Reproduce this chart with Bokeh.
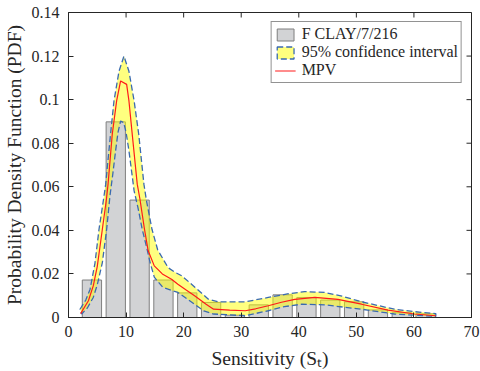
import math
from bokeh.plotting import figure
from bokeh.models import FixedTicker, Legend, LegendItem, Range1d
from bokeh.embed import file_html
from bokeh.resources import INLINE

# ---- data ----
bin_centers = [4.07, 8.21, 12.35, 16.49, 20.63, 24.77, 28.91, 33.05, 37.19,
               41.33, 45.47, 49.61, 53.75, 57.89, 62.03]
bin_pdf = [0.0172, 0.0898, 0.0539, 0.0172, 0.0113, 0.0069, 0.0011, 0.0058,
           0.0104, 0.0092, 0.0080, 0.0072, 0.0035, 0.0022, 0.0017]

mpv_x = [2.1, 3.46, 4.3, 5.0, 5.88, 6.6, 6.87, 7.6, 8.36, 9.05, 10.1, 10.5,
         11.07, 11.94, 12.4, 13.2, 13.84, 14.9, 16.3, 17.9, 19.0, 20.5, 21.9,
         23.9, 25.2, 28.0, 30.7, 32.5, 34.7, 37.0, 39.3, 42.8, 46.8, 50.9,
         55.5, 60.1, 63.8]
mpv_y = [0.0018, 0.0077, 0.0145, 0.0235, 0.0405, 0.0545, 0.0612, 0.0841,
         0.0994, 0.1086, 0.1070, 0.0994, 0.0841, 0.0612, 0.0545, 0.0405,
         0.0306, 0.0237, 0.0200, 0.0176, 0.0153, 0.0125, 0.0100, 0.0061,
         0.0038, 0.0034, 0.0031, 0.0040, 0.0054, 0.0070, 0.0083, 0.0092,
         0.0083, 0.0061, 0.0034, 0.0016, 0.0008]

upper_x = [2.0, 3.0, 3.75, 4.6, 5.3, 6.1, 6.46, 7.3, 7.9, 8.77, 9.63, 10.5,
           11.4, 12.2, 13.1, 13.55, 14.5, 15.5, 17.3, 18.6, 19.7, 22.0, 24.3,
           26.1, 30.7, 34.7, 38.0, 41.0, 44.5, 47.5, 50.9, 56.6, 60.0, 63.8]
upper_y = [0.0038, 0.0080, 0.0130, 0.0250, 0.0405, 0.0545, 0.0612, 0.0841,
           0.0994, 0.1130, 0.1200, 0.1130, 0.0994, 0.0841, 0.0612, 0.0535,
           0.0405, 0.0310, 0.0229, 0.0206, 0.0191, 0.0138, 0.0084, 0.0072,
           0.0072, 0.0092, 0.0108, 0.0119, 0.0115, 0.0098, 0.0072, 0.0038,
           0.0027, 0.0018]

lower_x = [2.3, 3.3, 4.3, 5.0, 5.88, 6.63, 7.2, 7.7, 8.18, 8.6, 9.05, 9.6,
           10.0, 10.5, 11.4, 12.1, 12.8, 13.5, 14.2, 14.9, 16.4, 19.0, 21.9,
           23.5, 25.2, 30.7, 34.7, 37.5, 40.5, 44.5, 50.9, 56.6, 63.8]
lower_y = [0.0016, 0.0045, 0.0092, 0.0150, 0.0252, 0.0405, 0.0558, 0.0660,
           0.0765, 0.0850, 0.0902, 0.0894, 0.0850, 0.0765, 0.0581, 0.0500,
           0.0405, 0.0330, 0.0250, 0.0185, 0.0138, 0.0115, 0.0061, 0.0030,
           0.0016, 0.0008, 0.0031, 0.0050, 0.0061, 0.0058, 0.0038, 0.0016,
           0.0005]

x_ticks = [0, 10, 20, 30, 40, 50, 60, 70]
y_ticks = [0, 0.02, 0.04, 0.06, 0.08, 0.1, 0.12, 0.14]
y_tick_labels = ["0", "0.02", "0.04", "0.06", "0.08", "0.1", "0.12", "0.14"]

legend_labels = ["F CLAY/7/216", "95% confidence interval", "MPV"]

X_MIN, X_MAX = 0, 70
Y_MIN, Y_MAX = 0, 0.14

FONT = "Liberation Serif"
AX = "#262626"

p = figure(width=480, height=371, output_backend="svg", toolbar_location=None,
           x_range=Range1d(X_MIN, X_MAX), y_range=Range1d(Y_MIN, Y_MAX),
           min_border_left=66, min_border_right=9, min_border_top=12,
           min_border_bottom=54)
p.background_fill_color = "white"
p.border_fill_color = "white"
p.outline_line_color = AX
p.outline_line_width = 1
p.grid.visible = False

bars = p.vbar(x=bin_centers, top=bin_pdf, width=3.35, bottom=0,
              fill_color="#d2d3d5", line_color="#7f7f7f", line_width=1)

band_x = upper_x + lower_x[::-1]
band_y = upper_y + lower_y[::-1]
band = p.patch(band_x, band_y, fill_color="#ffff00", fill_alpha=0.5,
               line_color="#3a6ab0", line_dash="6 3", line_width=1.3)

mpv = p.line(mpv_x, mpv_y, line_color="#ff1a1a", line_width=1.2)

# axes
for ax in [p.xaxis[0], p.yaxis[0]]:
    ax.axis_line_color = AX
    ax.major_tick_line_color = AX
    ax.major_tick_in = 5
    ax.major_tick_out = 0
    ax.minor_tick_line_color = None
    ax.major_label_text_font = FONT
    ax.major_label_text_font_size = "16px"
    ax.major_label_text_color = AX
    ax.axis_label_text_font = FONT
    ax.axis_label_text_font_size = "19.5px"
    ax.axis_label_text_font_style = "normal"
    ax.axis_label_text_color = AX

p.xaxis[0].ticker = FixedTicker(ticks=x_ticks)
p.yaxis[0].ticker = FixedTicker(ticks=y_ticks)
p.yaxis[0].major_label_overrides = {t: l for t, l in zip(y_ticks, y_tick_labels)}
p.xaxis[0].major_label_standoff = 8
p.yaxis[0].major_label_standoff = 9
p.xaxis[0].axis_label_standoff = 8
p.yaxis[0].axis_label_standoff = 4
p.xaxis[0].axis_label = "Sensitivity (S\u209c)"
p.yaxis[0].axis_label = "Probability Density Function (PDF)"

# inward ticks on the top and right edges of the box
p.ray(x=x_ticks, y=[Y_MAX] * len(x_ticks), length=5, length_units="screen",
      angle=-math.pi / 2, line_color=AX, line_width=1)
p.ray(x=[X_MAX] * len(y_ticks), y=y_ticks, length=5, length_units="screen",
      angle=math.pi, line_color=AX, line_width=1)

legend = Legend(items=[LegendItem(label=legend_labels[0], renderers=[bars]),
                       LegendItem(label=legend_labels[1], renderers=[band]),
                       LegendItem(label=legend_labels[2], renderers=[mpv])],
                location="top_right")
legend.margin = 9
legend.padding = 3
legend.spacing = 0
legend.glyph_height = 15
legend.glyph_width = 21
legend.label_height = 15
legend.label_standoff = 6
legend.label_text_font = FONT
legend.label_text_font_size = "16px"
legend.label_text_color = AX
legend.border_line_color = AX
legend.border_line_width = 1
legend.background_fill_color = "white"
legend.background_fill_alpha = 1
p.add_layout(legend)

open("out.html", "w").write(file_html(p, INLINE))
